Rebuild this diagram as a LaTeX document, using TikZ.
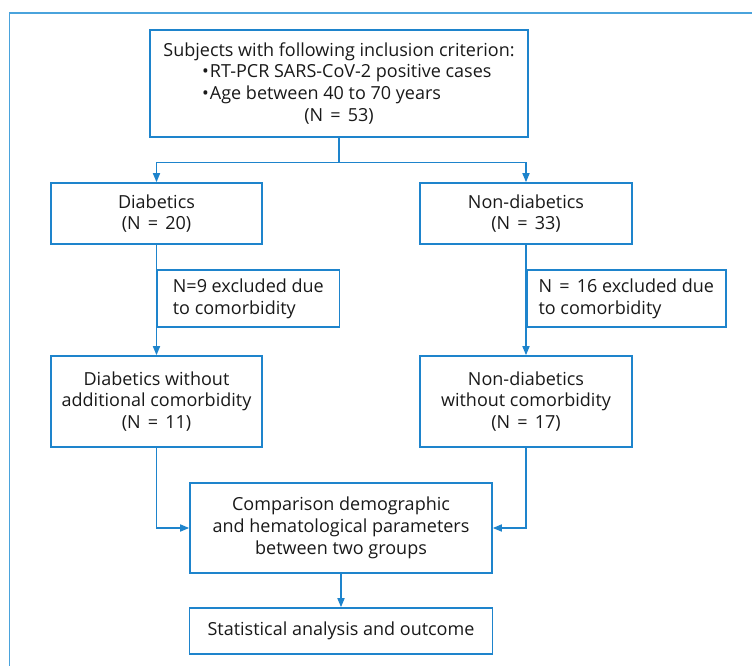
\documentclass[tikz,border=0pt]{standalone}
\usepackage{fontspec}
\setmainfont{Open Sans}
\usetikzlibrary{arrows.meta}
\definecolor{boxblue}{RGB}{30,132,204}
\definecolor{frameblue}{RGB}{74,163,220}
\definecolor{txt}{RGB}{25,25,25}
\newcommand{\eqsp}{\hspace{0.4em}=\hspace{0.4em}}
\tikzset{
  box/.style={draw=boxblue, line width=1.6pt, rectangle, inner sep=0pt, text=txt,
    font=\fontsize{18}{21.7}\selectfont, align=center},
  lbl/.style={inner sep=0pt, text=txt, font=\fontsize{18}{21.7}\selectfont},
  conn/.style={draw=boxblue, line width=1.6pt},
  arr/.style={conn, -{Triangle[length=9pt,width=7pt]}}
}
\begin{document}
\begin{tikzpicture}[x=1pt,y=-1pt]
\useasboundingbox (0,0) rectangle (752,666);
\draw[frameblue, line width=1.6pt] (9.5,670) -- (9.5,13) -- (756,13);
% boxes
\node[box, minimum width=378pt, minimum height=107pt] (top) at (339,83.5) {};
\node[lbl] (t1) at (339,52) {Subjects with following inclusion criterion:};
\node[lbl, anchor=west] (t2) at (202,73.5) {•\hspace{1pt}RT-PCR SARS-CoV-2 positive cases};
\node[lbl, anchor=west] (t3) at (202,95) {•\hspace{1pt}Age between 40 to 70 years};
\node[lbl] (t4) at (339,116.5) {(N\eqsp53)};
\node[box, minimum width=211pt, minimum height=61pt] (diab) at (156.5,213.5) {Diabetics\\(N\eqsp20)};
\node[box, minimum width=212pt, minimum height=61pt] (nondiab) at (526,213.5) {Non-diabetics\\(N\eqsp33)};
\node[box, anchor=west, minimum width=182pt, minimum height=57pt, align=left] (exl) at (156.5,298.5) {N=9 excluded due\\to comorbidity};
\node[box, anchor=west, minimum width=199pt, minimum height=57pt, align=left] (exr) at (526,298.5) {N\eqsp16 excluded due\\to comorbidity};
\node[box, minimum width=211pt, minimum height=91pt] (diabwo) at (156.5,401.5) {Diabetics without\\additional comorbidity\\(N\eqsp11)};
\node[box, minimum width=212pt, minimum height=91pt] (nondiabwo) at (526,401.5) {Non-diabetics\\without comorbidity\\(N\eqsp17)};
\node[box, minimum width=302pt, minimum height=90pt] (comp) at (341,528) {Comparison demographic\\and hematological parameters\\between two groups};
\node[box, minimum width=303pt, minimum height=46pt] (stat) at (341,631) {Statistical analysis and outcome};
% connectors
\coordinate (split) at (339,162.5);
\draw[conn] (top.south) -- (split);
\draw[arr] (split) -| (diab.north);
\draw[arr] (split) -| (nondiab.north);
\draw[arr] (diab.south) -- (diabwo.north);
\draw[arr] (nondiab.south) -- (nondiabwo.north);
\draw[arr] (diabwo.south) |- (comp.west);
\draw[arr] (nondiabwo.south) |- (comp.east);
\draw[arr] (comp.south) -- (stat.north);
\end{tikzpicture}
\end{document}
